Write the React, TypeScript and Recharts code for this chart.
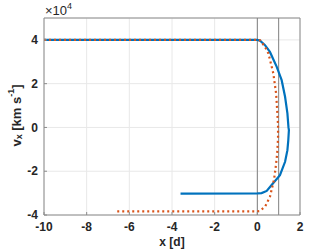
import React from 'react';
import { LineChart, Line, XAxis, YAxis, CartesianGrid, ReferenceLine } from 'recharts';

const xTicks = [-10, -8, -6, -4, -2, 0, 2];
const yTicks = [-40000, -20000, 0, 20000, 40000];
const markerX = [0, 1];

const blueX = [-10, 0, 0.13, 0.36, 0.59, 0.91, 1.14, 1.3, 1.41, 1.46, 1.48, 1.45, 1.41, 1.3, 1.06, 0.67, 0.44, 0.2, 0, -3.6];
const blueV = [40000, 40000, 39600, 37600, 34500, 27700, 21600, 14000, 6400, 0, -1200, -6000, -10400, -15700, -21800, -26300, -29000, -30000, -30100, -30200];

const orangeX = [-10, 0, 0.13, 0.35, 0.52, 0.75, 0.88, 0.94, 0.97, 0.97, 0.93, 0.85, 0.78, 0.59, 0.36, 0.09, 0, -6.7];
const orangeV = [40000, 40000, 39800, 37000, 33800, 24700, 15500, 6400, 1000, -5000, -12000, -19000, -24000, -31700, -36300, -38200, -38300, -38300];

const blue = blueX.map((x, i) => ({ x, v: blueV[i] }));
const orange = orangeX.map((x, i) => ({ x, v: orangeV[i] }));

const font = 'Liberation Sans, Arial, sans-serif';
const tickStyle = { fontFamily: font, fontSize: 12, fontWeight: 'bold', fill: '#262626' };

const YLabel = (props: any) => {
  const vb = props.viewBox || { x: 0, y: 0, width: 0, height: 0 };
  const cx = 16;
  const cy = vb.y + vb.height / 2 - 1;
  return (
    <g>
      <text x={cx} y={cy} transform={`rotate(-90 ${cx} ${cy})`} textAnchor="middle" dominantBaseline="central"
        fontFamily={font} fontSize={13} fontWeight="bold" fill="#262626">
        <tspan>v</tspan>
        <tspan fontSize={9} dy={3}>x</tspan>
        <tspan dy={-3}> [km s</tspan>
        <tspan fontSize={9} dy={-5}>-1</tspan>
        <tspan dy={5}>]</tspan>
      </text>
      <text x={vb.x + vb.width + 1} y={vb.y - 3} fontFamily={font} fontSize={13} fill="#262626" style={{ fontSize: 13 }}>
        ×10<tspan fontSize={9} dy={-6} style={{ fontSize: 9 }}>4</tspan>
      </text>
    </g>
  );
};

const XLabel = (props: any) => {
  const vb = props.viewBox || { x: 0, y: 0, width: 0, height: 0 };
  const cx = vb.x + vb.width / 2;
  const cy = vb.y + 27;
  return (
    <text x={cx} y={cy} textAnchor="middle" dominantBaseline="central"
      fontFamily={font} fontSize={12} fontWeight="bold" fill="#262626">
      x [d]
    </text>
  );
};

export default function App() {
  return (
    <div style={{ position: 'absolute', left: 0, top: 0, width: 332, height: 249, background: '#fff' }}>
      <LineChart width={332} height={249} margin={{ top: 18, right: 32, left: 0, bottom: 0 }}>
        <CartesianGrid stroke="#e8e8e8" strokeWidth={1} />
        <XAxis
          dataKey="x"
          type="number"
          domain={[-10, 2]}
          ticks={xTicks}
          allowDataOverflow
          height={34}
          stroke="#8c8c8c"
          tickSize={-3}
          tickMargin={10}
          tick={tickStyle}
          label={<XLabel />}
        />
        <YAxis
          dataKey="v"
          type="number"
          domain={[-40000, 50000]}
          ticks={yTicks}
          allowDataOverflow
          width={44}
          stroke="#8c8c8c"
          tickSize={-3}
          tickMargin={9}
          tick={tickStyle}
          tickFormatter={(v: number) => String(v / 10000)}
          label={<YLabel />}
        />
        <ReferenceLine y={50000} stroke="#8c8c8c" strokeWidth={1} />
        <ReferenceLine x={2} stroke="#8c8c8c" strokeWidth={1} />
        {markerX.map((m) => (
          <ReferenceLine key={m} x={m} stroke="#808080" strokeWidth={1} />
        ))}
        <Line data={blue} dataKey="v" type="linear" stroke="#0072BD" strokeWidth={2.2} dot={false} isAnimationActive={false} />
        <Line data={orange} dataKey="v" type="linear" stroke="#D95319" strokeWidth={2.2} strokeDasharray="2 3" dot={false} isAnimationActive={false} />
      </LineChart>
    </div>
  );
}
